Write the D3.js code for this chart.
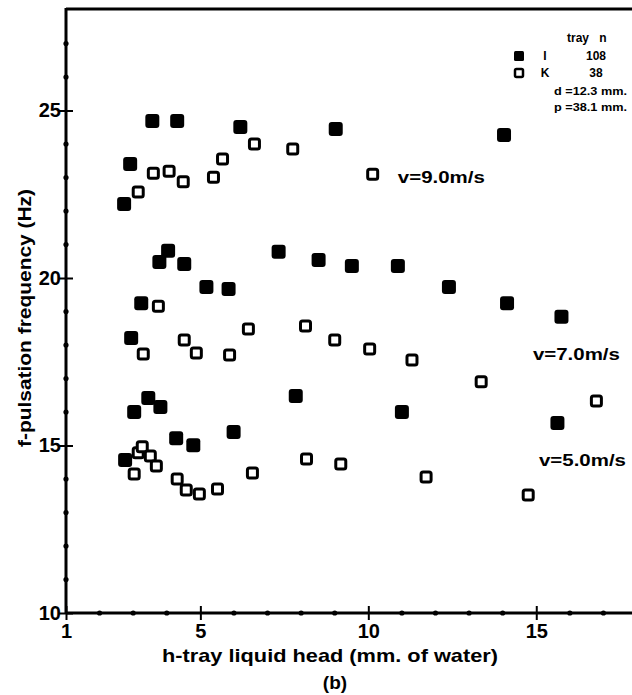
<!DOCTYPE html>
<html>
<head>
<meta charset="utf-8">
<script src="https://cdn.jsdelivr.net/npm/d3@7/dist/d3.min.js"></script>
<style>
  html, body { margin: 0; padding: 0; background: #fff; }
  svg { display: block; }
  text { font-family: "Liberation Sans", "DejaVu Sans", sans-serif; font-weight: bold; fill: #000; }
</style>
</head>
<body>
<svg id="chart" width="632" height="695"></svg>
<script>
// Pulsation frequency against tray liquid head, trays I (filled) and K (open)
const trayI_v9 = [[2.73,22.21],[2.91,23.40],[3.57,24.69],[4.31,24.69],[6.19,24.51],[9.03,24.45],[14.04,24.27]];
const trayI_v7 = [[2.94,18.21],[3.24,19.25],[3.78,20.48],[4.04,20.81],[4.52,20.42],[5.18,19.73],[5.84,19.67],[7.33,20.78],[8.52,20.54],[9.51,20.36],[10.88,20.36],[12.40,19.73],[14.13,19.25],[15.75,18.84]];
const trayI_v5 = [[2.76,14.57],[3.03,16.00],[3.45,16.42],[3.81,16.15],[4.28,15.22],[4.79,15.01],[5.99,15.40],[7.84,16.48],[11.00,16.00],[15.63,15.67]];

const trayK_v9 = [[3.15,22.57],[3.60,23.13],[4.07,23.19],[4.49,22.87],[5.39,23.01],[5.66,23.55],[6.61,24.00],[7.75,23.85],[10.13,23.10]];
const trayK_v7 = [[3.30,17.73],[3.75,19.16],[4.52,18.15],[4.88,17.76],[5.87,17.70],[6.43,18.48],[8.13,18.57],[9.00,18.15],[10.04,17.88],[11.30,17.55],[13.36,16.90],[16.79,16.33]];
const trayK_v5 = [[3.03,14.15],[3.15,14.78],[3.27,14.96],[3.51,14.69],[3.69,14.39],[4.31,14.00],[4.58,13.67],[4.97,13.55],[5.51,13.70],[6.55,14.18],[8.16,14.60],[9.18,14.45],[11.72,14.06],[14.76,13.52]];

const xMajorTicks = [1, 5, 10, 15];
const xMinorTicks = [2, 3, 4, 6, 7, 8, 9, 11, 12, 13, 14, 16, 17];
const yMajorTicks = [10, 15, 20, 25];
const yMinorTicks = [11, 12, 13, 14, 16, 17, 18, 19, 21, 22, 23, 24, 26, 27];

const velocityLabels = [
  { text: "v=9.0m/s", h: 10.88, f: 22.85 },
  { text: "v=7.0m/s", h: 14.90, f: 17.55 },
  { text: "v=5.0m/s", h: 15.08, f: 14.40 }
];

const legendRows = [
  { tray: "I", n: "108", filled: true },
  { tray: "K", n: "38", filled: false }
];
const geometryNotes = ["d =12.3 mm.", "p =38.1 mm."];

const svg = d3.select("#chart");
const W = 632, H = 695;
const margin = { left: 66, top: 10, right: 0, bottom: 82 };

const x = d3.scaleLinear().domain([1, 17.85]).range([margin.left, W - margin.right]);
const y = d3.scaleLinear().domain([10, 28]).range([H - margin.bottom, margin.top]);

// Top frame line
svg.append("line")
  .attr("x1", x(1)).attr("x2", x(17.85))
  .attr("y1", y(28) - 1).attr("y2", y(28) - 1)
  .attr("stroke", "#000").attr("stroke-width", 3);

// X axis
const gx = svg.append("g")
  .attr("transform", `translate(0,${y(10)})`)
  .call(d3.axisBottom(x).tickValues(xMajorTicks).tickSize(7).tickSizeOuter(0).tickFormat(d3.format("d")));
gx.select(".domain").attr("stroke-width", 3).attr("d", `M${x(1)},0H${x(17.85)}`);
gx.selectAll(".tick line").attr("y1", -7).attr("y2", 7).attr("stroke-width", 2);
gx.selectAll(".tick text").attr("font-size", 20).attr("y", 11).attr("dy", "0.71em")
  .attr("font-family", "Liberation Sans, sans-serif").attr("font-weight", "bold");
gx.selectAll(".minor").data(xMinorTicks).enter().append("circle")
  .attr("class", "minor").attr("cx", d => x(d)).attr("cy", 0).attr("r", 2.6).attr("fill", "#000");

// Y axis
const gy = svg.append("g")
  .attr("transform", `translate(${x(1)},0)`)
  .call(d3.axisLeft(y).tickValues(yMajorTicks).tickSize(6).tickSizeOuter(0).tickFormat(d3.format("d")));
gy.select(".domain").attr("stroke-width", 3).attr("d", `M0,${y(10)}V${y(28) - 2}`);
gy.selectAll(".tick line").attr("x1", -7).attr("x2", 7).attr("stroke-width", 2);
gy.selectAll(".tick text").attr("font-size", 20).attr("x", -5)
  .attr("font-family", "Liberation Sans, sans-serif").attr("font-weight", "bold");
gy.selectAll(".minor").data(yMinorTicks).enter().append("circle")
  .attr("class", "minor").attr("cx", 0).attr("cy", d => y(d)).attr("r", 2.6).attr("fill", "#000");
svg.selectAll(".tick text").attr("fill", "#000");
svg.selectAll(".tick line, .domain").attr("stroke", "#000");

// Axis titles
svg.append("text")
  .attr("x", 330).attr("y", 662)
  .attr("text-anchor", "middle").attr("font-size", 19)
  .attr("textLength", 336).attr("lengthAdjust", "spacingAndGlyphs")
  .text("h-tray liquid head (mm. of water)");
svg.append("text")
  .attr("x", 335).attr("y", 689)
  .attr("text-anchor", "middle").attr("font-size", 19)
  .text("(b)");
svg.append("text")
  .attr("transform", "translate(31,318) rotate(-90)")
  .attr("text-anchor", "middle").attr("font-size", 19)
  .attr("textLength", 258).attr("lengthAdjust", "spacingAndGlyphs")
  .text("f-pulsation frequency (Hz)");

// Markers
const filledSize = 14, openSize = 10;
const allFilled = [...trayI_v9, ...trayI_v7, ...trayI_v5];
const allOpen = [...trayK_v9, ...trayK_v7, ...trayK_v5];

svg.append("g").selectAll("rect").data(allOpen).enter().append("rect")
  .attr("x", d => x(d[0]) - openSize / 2).attr("y", d => y(d[1]) - openSize / 2)
  .attr("width", openSize).attr("height", openSize).attr("rx", 2)
  .attr("fill", "#fff").attr("stroke", "#000").attr("stroke-width", 3);

svg.append("g").selectAll("rect").data(allFilled).enter().append("rect")
  .attr("x", d => x(d[0]) - filledSize / 2).attr("y", d => y(d[1]) - filledSize / 2)
  .attr("width", filledSize).attr("height", filledSize).attr("rx", 3)
  .attr("fill", "#000");

// Velocity annotations
svg.append("g").selectAll("text").data(velocityLabels).enter().append("text")
  .attr("x", d => x(d.h)).attr("y", d => y(d.f))
  .attr("font-size", 17).attr("textLength", 87).attr("lengthAdjust", "spacingAndGlyphs")
  .text(d => d.text);

// Legend
const lg = svg.append("g").attr("font-size", 12);
lg.append("text").attr("x", 578).attr("y", 42).attr("text-anchor", "middle").text("tray");
lg.append("text").attr("x", 603).attr("y", 42).attr("text-anchor", "middle").text("n");
legendRows.forEach((r, i) => {
  const cy = 56 + i * 17;
  lg.append("rect")
    .attr("x", r.filled ? 514 : 515).attr("y", cy - (r.filled ? 5 : 4))
    .attr("width", r.filled ? 10 : 8).attr("height", r.filled ? 10 : 8).attr("rx", 1.5)
    .attr("fill", r.filled ? "#000" : "#fff").attr("stroke", "#000").attr("stroke-width", r.filled ? 0 : 2.5);
  lg.append("text").attr("x", 545).attr("y", cy + 4).attr("text-anchor", "middle")
    .attr("font-family", r.tray === "I" ? "Liberation Serif, serif" : null).text(r.tray);
  lg.append("text").attr("x", 596).attr("y", cy + 4).attr("text-anchor", "middle").text(r.n);
});
geometryNotes.forEach((t, i) => {
  lg.append("text").attr("x", 554).attr("y", 95 + i * 16).attr("font-size", 11)
    .attr("textLength", 73).attr("lengthAdjust", "spacingAndGlyphs").text(t);
});
</script>
</body>
</html>
